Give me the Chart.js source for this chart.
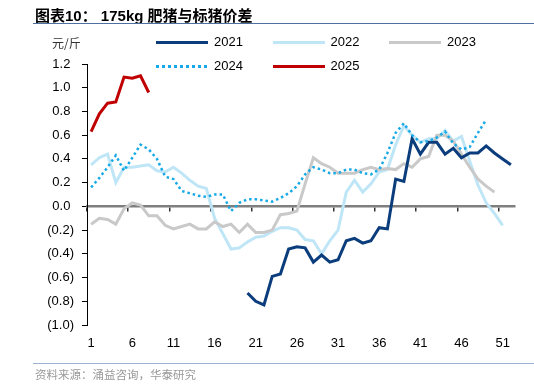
<!DOCTYPE html>
<html>
<head>
<meta charset="utf-8">
<script src="https://cdn.jsdelivr.net/npm/chart.js@4.4.1/dist/chart.umd.min.js"></script>
<style>
  html, body { margin: 0; padding: 0; background: #fff; }
  #wrap { position: relative; width: 534px; height: 392px; overflow: hidden; font-family: "Liberation Sans", "Noto Sans CJK SC", sans-serif; }
  #myChart { position: absolute; left: 0; top: 0; }
  .title { position: absolute; left: 35px; top: 4px; font-size: 15px; font-weight: bold; color: #000; white-space: nowrap; }
  .rule-top { position: absolute; left: 33px; right: 0; top: 23px; height: 1px; background: #4f6fa0; }
  .rule-bot { position: absolute; left: 33px; right: 0; top: 363px; height: 1px; background: #9db2cf; }
  .unit { position: absolute; left: 52px; top: 34px; font-size: 12px; color: #333; font-family: "Noto Sans CJK SC", sans-serif; }
  .source { position: absolute; left: 35px; top: 366px; font-size: 11.5px; color: #999; font-family: "Noto Sans CJK SC", sans-serif; white-space: nowrap; }
  .leg { position: absolute; height: 16px; }
  .leg .swatch { position: absolute; left: 0; top: 6px; width: 52px; height: 3px; }
  .leg .txt { position: absolute; left: 58px; top: -1px; font-size: 13px; color: #000; }
</style>
</head>
<body>
<div id="wrap">
  <canvas id="myChart" width="534" height="392"></canvas>
  <div class="title">图表10： 175kg 肥猪与标猪价差</div>
  <div class="rule-top"></div>
  <div class="unit">元/斤</div>
  <div id="legend"></div>
  <div class="rule-bot"></div>
  <div class="source">资料来源：涌益咨询，华泰研究</div>
</div>
<script>
// ═══════════════════════════════════════
//  DONNÉES (semaines 1..52)
// ═══════════════════════════════════════

const weeks = Array.from({ length: 52 }, (_, i) => String(i + 1));

const y2021 = [null, null, null, null, null, null, null, null, null, null,
  null, null, null, null, null, null, null, null, null,
  -0.73, -0.80, -0.83, -0.59, -0.57, -0.36, -0.34, -0.35, -0.47, -0.41, -0.47,
  -0.45, -0.29, -0.27, -0.31, -0.29, -0.18, -0.19, 0.23, 0.21, 0.57,
  0.44, 0.54, 0.54, 0.44, 0.49, 0.41, 0.45, 0.45, 0.51, 0.45,
  0.40, 0.35];

const y2022 = [0.35, 0.41, 0.44, 0.20, 0.33, 0.33, 0.34, 0.35, 0.30, 0.29,
  0.33, 0.28, 0.22, 0.17, 0.15, -0.10, -0.23, -0.36, -0.35, -0.30,
  -0.26, -0.25, -0.21, -0.18, -0.18, -0.20, -0.28, -0.29, -0.40, -0.29,
  -0.20, 0.12, 0.22, 0.12, 0.19, 0.29, 0.31, 0.52, 0.68, 0.60,
  0.54, 0.57, 0.57, 0.64, 0.55, 0.59, 0.38, 0.18, 0.03, -0.06,
  -0.16];

const y2023 = [-0.15, -0.10, -0.11, -0.15, -0.02, 0.03, 0.01, -0.08, -0.08, -0.16,
  -0.19, -0.17, -0.15, -0.19, -0.19, -0.13, -0.17, -0.15, -0.22, -0.15,
  -0.22, -0.22, -0.20, -0.07, -0.06, -0.04, 0.19, 0.41, 0.36, 0.33,
  0.28, 0.28, 0.28, 0.31, 0.33, 0.31, 0.32, 0.31, 0.36, 0.33,
  0.40, 0.42, 0.60, 0.60, 0.55, 0.44, 0.33, 0.23, 0.17, 0.12];

const y2024 = [0.16, 0.24, 0.33, 0.43, 0.30, 0.41, 0.52, 0.48, 0.40, 0.25,
  0.23, 0.13, 0.11, 0.09, 0.08, 0.10, 0.10, -0.04, 0.03, 0.06,
  0.06, 0.05, 0.04, 0.07, 0.11, 0.17, 0.27, 0.33, 0.31, 0.28,
  0.28, 0.31, 0.31, 0.28, 0.27, 0.31, 0.45, 0.62, 0.70, 0.60,
  0.54, 0.55, 0.58, 0.63, 0.53, 0.48, 0.50, 0.62, 0.73];

const y2025 = [0.63, 0.78, 0.87, 0.88, 1.09, 1.08, 1.10, 0.96];

const yTicks = { min: -1.0, max: 1.2, step: 0.2 };

// ═══════════════════════════════════════
//  SÉRIES
// ═══════════════════════════════════════

const series = [
  { label: '2021', data: y2021, color: '#0b3d7c', order: 2 },
  { label: '2022', data: y2022, color: '#bfe6f6', order: 4 },
  { label: '2023', data: y2023, color: '#c9c9c9', order: 3 },
  { label: '2024', data: y2024, color: '#17a9e6', order: 1, dotted: true },
  { label: '2025', data: y2025, color: '#c00000', order: 0 }
];

const datasets = series.map(s => ({
  label: s.label,
  data: s.data,
  borderColor: s.color,
  backgroundColor: s.color,
  borderWidth: s.dotted ? 2.5 : 3,
  borderDash: s.dotted ? [2.5, 3] : [],
  pointRadius: 0,
  tension: 0,
  fill: false,
  spanGaps: false,
  order: s.order
}));

// ═══════════════════════════════════════
//  LÉGENDE (HTML)
// ═══════════════════════════════════════

function buildLegend() {
  const box = document.getElementById('legend');
  series.forEach((s, i) => {
    const row = i < 3 ? 0 : 1;
    const col = i % 3;
    const item = document.createElement('div');
    item.className = 'leg';
    item.style.left = (156 + col * 116.5) + 'px';
    item.style.top = (row ? 59 : 35) + 'px';
    const sw = document.createElement('div');
    sw.className = 'swatch';
    sw.style.background = s.dotted
      ? `repeating-linear-gradient(to right, ${s.color} 0 3px, transparent 3px 6px)`
      : s.color;
    const t = document.createElement('div');
    t.className = 'txt';
    t.textContent = s.label;
    item.appendChild(sw);
    item.appendChild(t);
    box.appendChild(item);
  });
}

// ═══════════════════════════════════════
//  GRAPHE
// ═══════════════════════════════════════

const fmt = v => {
  const r = Math.round(v * 10) / 10;
  if (Math.abs(r) < 1e-9) return '0.0 ';
  return r < 0 ? '(' + Math.abs(r).toFixed(1) + ')' : r.toFixed(1) + ' ';
};

const tickFont = { family: '"Liberation Sans", Arial, sans-serif', size: 13 };

new Chart(document.getElementById('myChart'), {
  type: 'line',
  data: { labels: weeks, datasets },
  options: {
    responsive: false,
    animation: false,
    layout: { padding: { top: 64, right: 19, bottom: 0, left: 0 } },
    plugins: { legend: { display: false }, tooltip: { enabled: false } },
    scales: {
      x: {
        type: 'category',
        offset: true,
        grid: { display: false, drawTicks: false },
        border: { display: false },
        ticks: {
          autoSkip: false,
          maxRotation: 0,
          padding: 11,
          color: '#000',
          font: tickFont,
          callback: (v, i) => (i % 5 === 0 ? weeks[i] : '')
        },
        afterFit: scale => { scale.height = 67; }
      },
      // axe horizontal à zéro : trait gris + petites graduations
      x2: {
        type: 'category',
        labels: weeks,
        offset: true,
        position: { y: 0 },
        ticks: { display: false },
        grid: {
          offset: true,
          drawOnChartArea: false,
          tickLength: 4,
          lineWidth: 1.5,
          color: ctx => (ctx.index % 5 === 0 ? '#333' : 'rgba(0,0,0,0)')
        },
        border: { display: true, color: '#7f7f7f', width: 2.5 }
      },
      y: {
        min: yTicks.min,
        max: yTicks.max,
        ticks: {
          stepSize: yTicks.step,
          padding: 8,
          color: '#000',
          font: tickFont,
          callback: v => fmt(v)
        },
        grid: { drawOnChartArea: false, tickLength: 5, color: '#000', tickColor: '#000' },
        border: { display: true, color: '#000', width: 1 },
        afterFit: scale => { scale.width = 87; }
      }
    }
  }
});

buildLegend();
</script>
</body>
</html>
